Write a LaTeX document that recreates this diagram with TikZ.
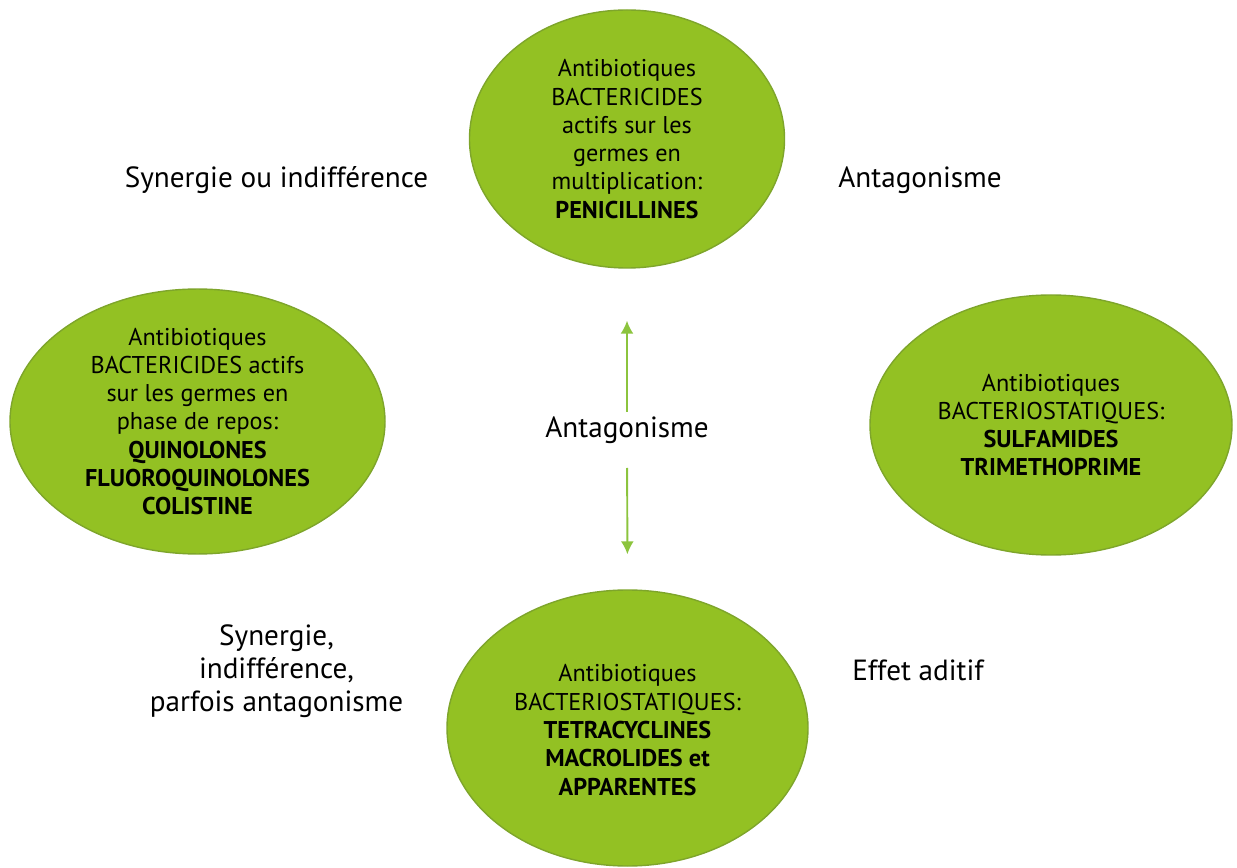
\documentclass[tikz,border=0pt]{standalone}
\usepackage{fontspec}
\setmainfont{PT Sans}
\usetikzlibrary{arrows,arrows.meta,positioning,shapes}
\definecolor{leaf}{HTML}{93C123}
\definecolor{leafdark}{HTML}{7EA52B}
\definecolor{stem}{HTML}{8CC43E}
\tikzset{
    %Define standard arrow tip
    >={Latex[length=2.6mm,width=2.6mm]},
    famille/.style={
      ellipse,
      fill=leaf,
      draw=leafdark, thick,
      inner sep=0pt,
      align=center,
      font=\fontsize{13.8}{16.1}\selectfont},
    effet/.style={
      align=center,
      font=\fontsize{16.6}{18.8}\selectfont},
    fleche/.style={
      ->,
      draw=stem, fill=stem, line width=1.1pt},
}

\begin{document}
\begin{tikzpicture}
    \useasboundingbox (0,0) rectangle (24.74,-17.36);
    \node (penic) [famille, minimum width=6.3cm, minimum height=5.16cm]
          at (12.54,-2.78)
          {Antibiotiques\\BACTERICIDES\\actifs sur les\\germes en\\multiplication:\\\textbf{PENICILLINES}};
    \node (quino) [famille, minimum width=7.5cm, minimum height=5.26cm]
          at (3.95,-8.43)
          {Antibiotiques\\BACTERICIDES actifs\\sur les germes en\\phase de repos:\\\textbf{QUINOLONES}\\\textbf{FLUOROQUINOLONES}\\\textbf{COLISTINE}};
    \node (sulfa) [famille, minimum width=7.24cm, minimum height=5.2cm]
          at (21.02,-8.5)
          {Antibiotiques\\BACTERIOSTATIQUES:\\\textbf{SULFAMIDES}\\\textbf{TRIMETHOPRIME}};
    \node (tetra) [famille, minimum width=7.22cm, minimum height=5.52cm]
          at (12.55,-14.56)
          {\mbox{}\\[-4pt]Antibiotiques\\BACTERIOSTATIQUES:\\\textbf{TETRACYCLINES}\\\textbf{MACROLIDES et}\\\textbf{APPARENTES}};
    % effects between families
    \node (synind) [effet] at (5.53,-3.6) {Synergie ou indifférence};
    \node (antag) [effet] at (18.4,-3.6) {Antagonisme};
    \node (centre) [effet] at (12.54,-8.6) {Antagonisme};
    \node (aditif) [effet] at (18.36,-13.4) {Effet aditif};
    \node (parfois) [effet] at (5.53,-13.42)
          {Synergie,\\indifférence,\\parfois antagonisme};
    \draw [fleche, shorten <=0.36cm, shorten >=1.04cm] (centre.center) -- (penic.south);
    \draw [fleche, shorten <=0.76cm, shorten >=0.7cm] (centre.center) -- (tetra.north);
\end{tikzpicture}
\end{document}
